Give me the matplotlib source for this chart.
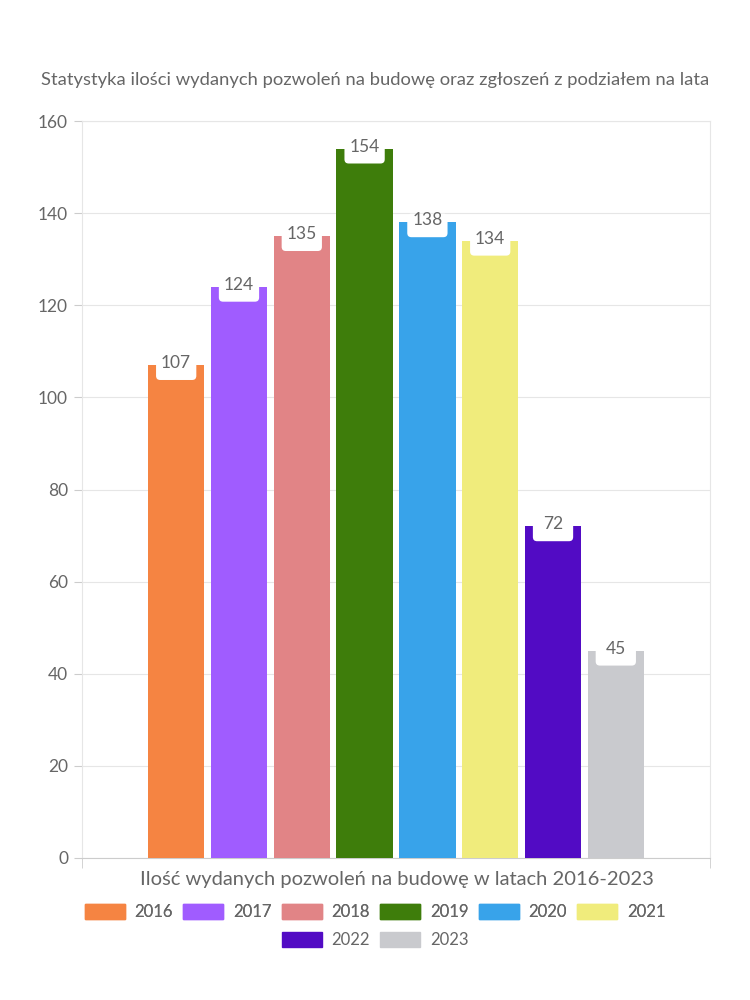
import matplotlib.pyplot as plt
import numpy as np
from matplotlib.offsetbox import AnnotationBbox, DrawingArea
from matplotlib.patches import FancyBboxPatch

plt.rcParams['font.family'] = ['Lato', 'DejaVu Sans']

years = ['2016', '2017', '2018', '2019', '2020', '2021', '2022', '2023']
permits = [107, 124, 135, 154, 138, 134, 72, 45]
colors = ['#F58442', '#A05CFF', '#E18486', '#3E7D0B',
          '#38A3EA', '#F0EC7C', '#520BC4', '#C9CACE']

title = 'Statystyka ilości wydanych pozwoleń na budowę oraz zgłoszeń z podziałem na lata'
xlabel = 'Ilość wydanych pozwoleń na budowę w latach 2016-2023'

TXT = '#666666'

fig = plt.figure(figsize=(7.5, 10), dpi=100)
ax = fig.add_axes([0.1093, 0.142, 0.8374, 0.737])

slot = 0.1
offsets = (np.arange(len(years)) - (len(years) - 1) / 2) * slot
bars = ax.bar(offsets, permits, width=0.09, color=colors, zorder=3)

ax.set_xlim(-0.5, 0.5)
ax.set_ylim(0, 160)
ax.set_yticks(range(0, 161, 20))
ax.set_xticks([])
ax.set_xticks([-0.5, 0.5], minor=True)
ax.tick_params(axis='x', which='minor', length=7, color='#cccccc', labelbottom=False)
ax.tick_params(axis='y', length=6, color='#cccccc', labelsize=12.5, labelcolor=TXT, pad=4)
ax.grid(axis='y', color='#e6e6e6', linewidth=0.8, zorder=0)
for side in ['top', 'right', 'left']:
    ax.spines[side].set_color('#e6e6e6')
ax.spines['bottom'].set_color('#cccccc')

# value labels on white rounded tabs
for b, v in zip(bars, permits):
    cx = b.get_x() + b.get_width() / 2
    da = DrawingArea(29, 17, 0, 0)
    da.add_artist(FancyBboxPatch((0, 0), 29, 17,
                                 boxstyle='round,pad=0,rounding_size=3',
                                 fc='white', ec='none'))
    ab = AnnotationBbox(da, (cx, v), xybox=(0, -2.2), boxcoords='offset points',
                        frameon=False, pad=0, box_alignment=(0.5, 0.5), zorder=4)
    ax.add_artist(ab)
    ax.annotate(str(v), (cx, v), xytext=(0, 1.5), textcoords='offset points',
                ha='center', va='center', fontsize=12.5, color=TXT, zorder=5)

fig.text(0.5, 0.92, title, ha='center', va='center', fontsize=13.2, color=TXT)
fig.text(0.529, 0.121, xlabel, ha='center', va='center', fontsize=14.5, color=TXT)

handles = [plt.Rectangle((0, 0), 1, 1, color=c) for c in colors]
common = dict(frameon=False, fontsize=12, labelcolor=TXT, handlelength=2.4,
              handleheight=1.0, handletextpad=0.6, columnspacing=0.6,
              borderaxespad=0, borderpad=0)
leg1 = fig.legend(handles[:6], years[:6], ncol=6, loc='center',
                  bbox_to_anchor=(0.5, 0.088), **common)
fig.add_artist(leg1)
fig.legend(handles[6:], years[6:], ncol=2, loc='center',
           bbox_to_anchor=(0.5, 0.06), **common)

fig.savefig('out.png', dpi=100)
